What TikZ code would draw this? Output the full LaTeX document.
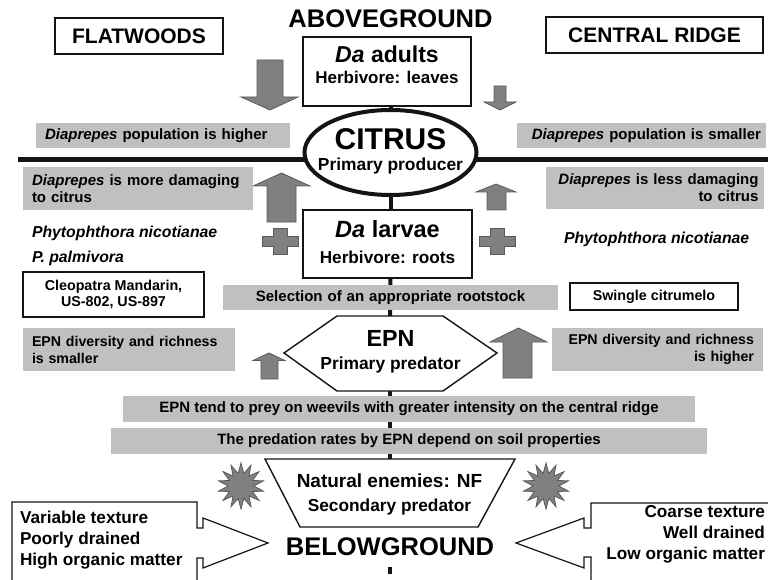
\documentclass[tikz,border=0pt]{standalone}
\usepackage{fontspec}
\setmainfont{Liberation Sans}
\usetikzlibrary{shapes.geometric,backgrounds}
\definecolor{boxgray}{RGB}{192,192,192}
\definecolor{arrgray}{RGB}{128,128,128}
\definecolor{arredge}{RGB}{90,90,90}
\definecolor{inkdark}{RGB}{20,20,20}
\newcommand\fsz[2]{\fontsize{#1pt}{#2pt}\selectfont}
\begin{document}
\begin{tikzpicture}[x=1pt,y=-1pt,
  every node/.style={inner sep=0pt, outer sep=0pt},
  wbox/.style={draw=inkdark, line width=1.4pt, fill=white},
  gbox/.style={fill=boxgray, inner xsep=9pt, inner ysep=0pt},
  arrowshape/.style={fill=arrgray, draw=arredge, line width=0.8pt},
  centerline/.style={draw=inkdark, line width=4pt},
  hline/.style={draw=inkdark, line width=5pt},
  wshape/.style={draw=inkdark, line width=1.4pt, fill=white},
  callout/.style={draw=inkdark, line width=1.2pt, fill=white},
  plussign/.pic={\draw[arrowshape] (-7,-13) -- (7,-13) -- (7,-5) -- (18,-5) -- (18,5) -- (7,5) -- (7,13) -- (-7,13) -- (-7,5) -- (-18,5) -- (-18,-5) -- (-7,-5) -- cycle;},
  burst/.style={star, star points=14, star point ratio=1.8, minimum size=46pt, fill=arrgray, draw=arredge, line width=0.8pt}
]
\useasboundingbox (0,0) rectangle (768,580);
\clip (0,0) rectangle (768,580);

% titles
\node[anchor=base, font=\bfseries\fsz{25.5}{30}] (above) at (390.5,28) {ABOVEGROUND};
\node[wbox, font=\bfseries\fsz{21}{25}, minimum width=168pt, minimum height=36pt] (flat) at (139,36) {FLATWOODS};
\node[wbox, font=\bfseries\fsz{21}{25}, minimum width=217pt, minimum height=36pt] (ridge) at (654.5,35) {CENTRAL RIDGE};

% Da adults
\node[wbox, font=\bfseries\fsz{17}{21}, align=center, minimum width=168pt, minimum height=69pt, text depth=12.8pt] (adults) at (387,71.5) {{\fsz{23}{21}\textit{Da} adults}\\Herbivore: leaves};

% citrus
\node[ellipse, draw=inkdark, line width=4pt, fill=white, minimum width=172pt, minimum height=85pt] (citrus) at (390.5,152.5) {};
\node[font=\bfseries\fsz{17.4}{21}, align=center] (citrustext) at (390.5,151.6) {{\fsz{30}{21}CITRUS}\\Primary producer};

% arrows near citrus
\draw[arrowshape] (257,60) -- (283,60) -- (283,97) -- (298,97) -- (270,110) -- (241,97) -- (257,97) -- cycle;
\draw[arrowshape] (494,86) -- (506,86) -- (506,102) -- (516,102) -- (500,110) -- (484,102) -- (494,102) -- cycle;
\draw[arrowshape] (267,222) -- (267,186) -- (253,186) -- (281.5,173) -- (310,186) -- (296,186) -- (296,222) -- cycle;
\draw[arrowshape] (487,210) -- (487,192) -- (476,192) -- (496,184) -- (516,192) -- (506,192) -- (506,210) -- cycle;

% gray statements
\node[gbox, font=\bfseries\fsz{15}{18}, text width=236pt, align=left, minimum height=25pt] (popH) at (163,135.5) {\textit{Diaprepes} population is higher};
\node[gbox, inner xsep=5pt, font=\bfseries\fsz{15}{18}, text width=239pt, align=right, minimum height=25pt] (popS) at (641.5,135.5) {\textit{Diaprepes} population is smaller};
\node[gbox, font=\bfseries\fsz{15}{17}, text width=212pt, align=left, minimum height=43pt] (dmgM) at (138,188.5) {\textit{Diaprepes} is more damaging\\to citrus};
\node[gbox, inner xsep=5.5pt, font=\bfseries\fsz{15}{17}, text width=207pt, align=right, minimum height=42pt] (dmgL) at (655,188) {\textit{Diaprepes} is less damaging\\to citrus};

% larvae
\node[wbox, font=\bfseries\fsz{17.2}{26}, align=center, minimum width=169pt, minimum height=68pt, text depth=4.8pt] (larvae) at (387.5,244) {{\fsz{23.5}{26}\textit{Da} larvae}\\Herbivore: roots};
\pic at (280,241) {plussign};
\pic at (497.5,241) {plussign};

\node[anchor=base west, font=\bfseries\itshape\fsz{15.8}{18}] (phyL) at (32,237) {Phytophthora nicotianae};
\node[anchor=base west, font=\bfseries\itshape\fsz{15.8}{18}] (palm) at (32,262) {P. palmivora};
\node[anchor=base west, font=\bfseries\itshape\fsz{15.8}{18}] (phyR) at (564,243) {Phytophthora nicotianae};

% rootstocks
\node[wbox, line width=1.3pt, font=\bfseries\fsz{14.3}{16}, align=center, minimum width=181pt, minimum height=45pt] (cleo) at (113.5,294.5) {Cleopatra Mandarin,\\US-802, US-897};
\node[gbox, font=\bfseries\fsz{15}{18}, text width=317pt, align=center, minimum height=25pt] (sel) at (390.5,297.5) {Selection of an appropriate rootstock};
\node[wbox, line width=1.3pt, font=\bfseries\fsz{14.3}{16}, minimum width=168pt, minimum height=27pt] (swingle) at (654,296.5) {Swingle citrumelo};

% EPN
\draw[wshape] (284,353) -- (337,316) -- (443,316) -- (497,353) -- (443,391) -- (337,391) -- cycle;
\node[font=\bfseries\fsz{17.4}{23}, align=center] (epn) at (390.5,352) {{\fsz{23.3}{23}EPN}\\Primary predator};
\coordinate (epntop) at (390,316);
\coordinate (epnbot) at (390,391);

\node[gbox, font=\bfseries\fsz{14.2}{17}, text width=194pt, align=left, minimum height=43pt] (divS) at (129,349.5) {EPN diversity and richness\\is smaller};
\node[gbox, font=\bfseries\fsz{14.2}{17}, text width=193pt, align=right, minimum height=43pt] (divH) at (657.5,349.5) {EPN diversity and richness\\is higher};
\draw[arrowshape] (261,379) -- (261,360.5) -- (253,360.5) -- (269,353) -- (285,360.5) -- (278,360.5) -- (278,379) -- cycle;
\draw[arrowshape] (503,378) -- (503,342) -- (490,342) -- (518.5,328) -- (547,342) -- (532,342) -- (532,378) -- cycle;

\node[gbox, font=\bfseries\fsz{15}{18}, minimum width=572pt, minimum height=26pt] (prey) at (409,409) {EPN tend to prey on weevils with greater intensity on the central ridge};
\node[gbox, font=\bfseries\fsz{15}{18}, minimum width=596pt, minimum height=26pt] (rates) at (409,441) {The predation rates by EPN depend on soil properties};

% natural enemies
\draw[wshape] (265,459) -- (515,459) -- (478,527) -- (300,527) -- cycle;
\node[font=\bfseries\fsz{17.3}{24}, align=center] (nat) at (389.5,494) {{\fsz{19}{24}Natural enemies: NF}\\Secondary predator};
\coordinate (nattop) at (390,459);
\node[burst] (burstL) at (241,486) {};
\node[burst] (burstR) at (546,486) {};

% belowground
\node[anchor=base, font=\bfseries\fsz{25.5}{30}] (below) at (390,555) {BELOWGROUND};
\coordinate (dotA) at (390,567);
\coordinate (dotB) at (390,574);

% soil callouts
\draw[callout] (12,590) -- (12,502) -- (197,502) -- (197,528) -- (203,528) -- (203,518) -- (268,543) -- (203,568) -- (203,558) -- (197,558) -- (197,590);
\draw[callout] (775,503) -- (591,503) -- (591,528) -- (584,528) -- (584,518) -- (516,543) -- (584,568) -- (584,557) -- (591,557) -- (591,590);
\node[anchor=west, align=left, font=\bfseries\fsz{17.2}{21}] (soilL) at (20,539.6) {Variable texture\\Poorly drained\\High organic matter};
\node[anchor=east, align=right, font=\bfseries\fsz{17.2}{21}] (soilR) at (765,534.6) {Coarse texture\\Well drained\\Low organic matter};

% axis lines behind
\begin{scope}[on background layer]
\coordinate (hlL) at (18,160);
\coordinate (hlR) at (770,160);
\draw[hline] (hlL) -- (hlR);
\draw[centerline] (citrus.north |- adults.south) -- (citrus.north);
\draw[centerline] (citrus.south) -- (citrus.south |- larvae.north);
\draw[centerline] (citrus.south |- larvae.south) -- (epntop);
\draw[centerline] (epnbot) -- (nattop);
\draw[centerline] (dotA) -- (dotB);
\end{scope}
\end{tikzpicture}
\end{document}
